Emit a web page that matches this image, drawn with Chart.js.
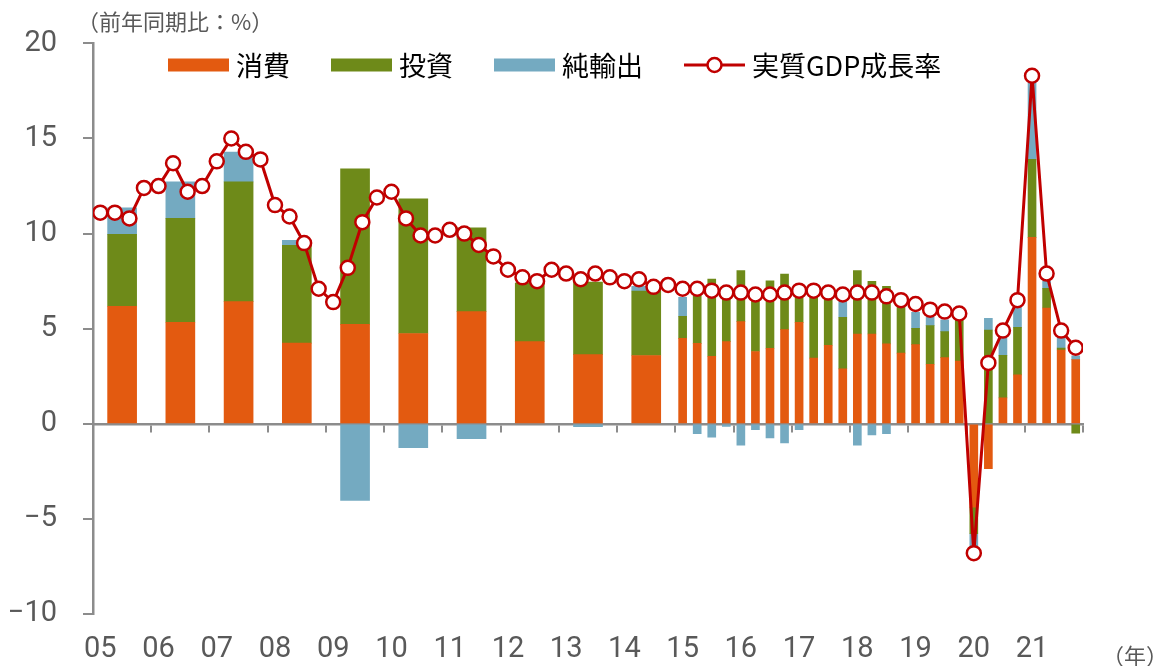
<!DOCTYPE html>
<html lang="ja">
<head>
<meta charset="utf-8">
<title>実質GDP成長率と需要項目別寄与度</title>
<script src="https://cdn.jsdelivr.net/npm/chart.js@4.4.1/dist/chart.umd.min.js"></script>
<style>
  html, body { margin: 0; padding: 0; background: #fff; }
  #wrap { width: 1157px; height: 666px; }
</style>
</head>
<body>
<div id="wrap"><canvas id="gdpChart" width="1157" height="666"></canvas></div>
<script>
// 年ラベル（各年の第1四半期の位置に置く）
const yearLabels = ['05', '06', '07', '08', '09', '10', '11', '12', '13',
                    '14', '15', '16', '17', '18', '19', '20', '21'];

// 実質GDP成長率（四半期、2005Q1〜2021Q4）
const gdpGrowth = [
  11.1, 11.1, 10.8, 12.4,  12.5, 13.7, 12.2, 12.5,  13.8, 15.0, 14.3, 13.9,
  11.5, 10.9,  9.5,  7.1,   6.4,  8.2, 10.6, 11.9,  12.2, 10.8,  9.9,  9.9,
  10.2, 10.0,  9.4,  8.8,   8.1,  7.7,  7.5,  8.1,   7.9,  7.6,  7.9,  7.7,
   7.5,  7.6,  7.2,  7.3,   7.1,  7.1,  7.0,  6.9,   6.9,  6.8,  6.8,  6.9,
   7.0,  7.0,  6.9,  6.8,   6.9,  6.9,  6.7,  6.5,   6.3,  6.0,  5.9,  5.8,
  -6.8,  3.2,  4.9,  6.5,  18.3,  7.9,  4.9,  4.0
];

// 年次の寄与度（2005〜2014年）
const annualConsumption = [6.18, 5.34, 6.42, 4.24, 5.23, 4.75, 5.9, 4.32, 3.64, 3.59];
const annualInvestment  = [3.78, 5.46, 6.3, 5.14, 8.17, 7.08, 4.4, 3.08, 3.81, 3.39];
const annualNetExports  = [1.4, 1.92, 1.56, 0.26, -4.03, -1.25, -0.78, 0.0, -0.15, 0.25];

// 四半期の寄与度（2015Q1〜2021Q4）
const quarterlyStart = 40;
const quarterlyConsumption = [
  4.49, 4.23, 3.55, 4.32,  5.37, 3.8, 3.97, 4.95,  5.33, 3.45, 4.13, 2.89,
  4.72, 4.72, 4.2, 3.72,   4.16, 3.13, 3.48, 3.3,  -4.38, -2.36, 1.36, 2.57,
  9.8, 6.09, 3.88, 3.37
];
const quarterlyInvestment = [
  1.16, 2.67, 4.06, 2.5,   2.68, 2.9, 3.55, 2.92,  1.6, 3.45, 2.67, 2.71,
  3.33, 2.77, 3.03, 2.48,  0.86, 2.03, 1.37, 2.3,  -1.4, 4.93, 2.24, 2.5,
  4.1, 1.03, 0.1, -0.49
];
const quarterlyNetExports = [
  1.0, -0.52, -0.7, -0.14,  -1.12, -0.31, -0.74, -1.0,  -0.31, 0.0, 0.0, 0.9,
  -1.12, -0.58, -0.52, 0.0,  0.84, 0.44, 0.61, 0.0,   -0.9, 0.61, 1.1, 1.13,
  4.3, 0.38, 0.55, 0.21
];

const colors = {
  consumption: '#E35A10',
  investment: '#6E8A19',
  netExports: '#74AAC1',
  gdp: '#C00000',
  axis: '#8C8C8C',
  text: '#595959'
};

// x軸は四半期単位（1四半期 = 1）。年次の棒はその年の中央に置く
const annualPoints = vals => vals.map((v, k) => ({ x: k * 4 + 2, y: v }));
const quarterPoints = (vals, first) => vals.map((v, k) => ({ x: first + k + 0.5, y: v }));

const tickFont = { family: '"Liberation Sans Narrow", "Roboto", sans-serif', size: 29 };

function barSet(label, data, color, thickness, inLegend) {
  return {
    type: 'bar',
    label: label,
    data: data,
    backgroundColor: color,
    barThickness: thickness,
    stack: 'demand',
    order: 1,
    inLegend: inLegend
  };
}

// 凡例はプロット領域の上部に重ねて描く
const inlineLegend = {
  id: 'inlineLegend',
  afterDatasetsDraw(chart) {
    const { ctx } = chart;
    const items = chart.data.datasets.filter(d => d.inLegend);
    const y = 65;
    let x = 168;
    ctx.save();
    ctx.font = '27px "Noto Sans CJK JP"';
    ctx.textBaseline = 'middle';
    items.forEach(d => {
      if (d.type === 'line') {
        ctx.strokeStyle = d.borderColor;
        ctx.lineWidth = 3;
        ctx.beginPath();
        ctx.moveTo(x, y);
        ctx.lineTo(x + 61, y);
        ctx.stroke();
        ctx.beginPath();
        ctx.arc(x + 30.5, y, 7, 0, Math.PI * 2);
        ctx.fillStyle = '#fff';
        ctx.fill();
        ctx.lineWidth = 2.5;
        ctx.stroke();
      } else {
        ctx.fillStyle = d.backgroundColor;
        ctx.fillRect(x, y - 6.5, 61, 13);
      }
      ctx.fillStyle = '#000';
      ctx.fillText(d.label, x + 68, y + 1);
      x += 68 + ctx.measureText(d.label).width + 41;
    });
    ctx.restore();
  }
};

// 単位の注記
const unitNotes = {
  id: 'unitNotes',
  afterDraw(chart) {
    const { ctx } = chart;
    ctx.save();
    ctx.font = '22px "Noto Sans CJK JP"';
    ctx.fillStyle = colors.text;
    ctx.fillText('（前年同期比：%）', 77, 30);
    ctx.textAlign = 'right';
    ctx.fillText('（年）', 1168, 664);
    ctx.restore();
  }
};

const ctx = document.getElementById('gdpChart').getContext('2d');

const gdpChart = new Chart(ctx, {
  type: 'bar',
  data: {
    datasets: [
      barSet('消費', annualPoints(annualConsumption), colors.consumption, 29, true),
      barSet('投資', annualPoints(annualInvestment), colors.investment, 29, true),
      barSet('純輸出', annualPoints(annualNetExports), colors.netExports, 29, true),
      barSet('消費', quarterPoints(quarterlyConsumption, quarterlyStart), colors.consumption, 8, false),
      barSet('投資', quarterPoints(quarterlyInvestment, quarterlyStart), colors.investment, 8, false),
      barSet('純輸出', quarterPoints(quarterlyNetExports, quarterlyStart), colors.netExports, 8, false),
      {
        type: 'line',
        label: '実質GDP成長率',
        data: gdpGrowth.map((v, i) => ({ x: i + 0.5, y: v })),
        borderColor: colors.gdp,
        borderWidth: 3,
        pointRadius: 7,
        pointBorderWidth: 2.5,
        pointBackgroundColor: '#fff',
        pointBorderColor: colors.gdp,
        tension: 0,
        order: 0,
        inLegend: true
      }
    ]
  },
  options: {
    responsive: false,
    animation: false,
    layout: { padding: { top: 42, right: 74, left: 0, bottom: 0 } },
    scales: {
      x: {
        type: 'linear',
        min: 0,
        max: 68,
        stacked: true,
        offset: false,
        afterBuildTicks: s => { s.ticks = yearLabels.map((_, k) => ({ value: k * 4 + 0.5 })); },
        afterFit: s => { s.height = 52; },
        ticks: {
          autoSkip: false,
          maxRotation: 0,
          padding: 10,
          color: colors.text,
          font: tickFont,
          callback: v => yearLabels[Math.round((v - 0.5) / 4)]
        },
        grid: { display: false, offset: false },
        border: { display: false }
      },
      xZero: {
        axis: 'x',
        type: 'linear',
        position: { y: 0 },
        min: 0,
        max: 68,
        offset: false,
        afterBuildTicks: s => { s.ticks = yearLabels.map((_, k) => ({ value: (k + 1) * 4 })); },
        ticks: { display: false },
        grid: { drawOnChartArea: false, offset: false, color: colors.axis, lineWidth: 2, tickLength: 7 },
        border: { color: colors.axis, width: 2.5 }
      },
      y: {
        stacked: true,
        min: -10,
        max: 20,
        afterFit: s => { s.width = 93; },
        ticks: {
          stepSize: 5,
          padding: 26,
          color: colors.text,
          font: tickFont,
          callback: v => String(v).replace('-', '−')
        },
        grid: { drawOnChartArea: false, color: colors.axis, lineWidth: 2, tickLength: 10 },
        border: { color: colors.axis, width: 2.5 }
      }
    },
    plugins: {
      legend: { display: false },
      tooltip: { enabled: false }
    }
  },
  plugins: [inlineLegend, unitNotes]
});
</script>
</body>
</html>
